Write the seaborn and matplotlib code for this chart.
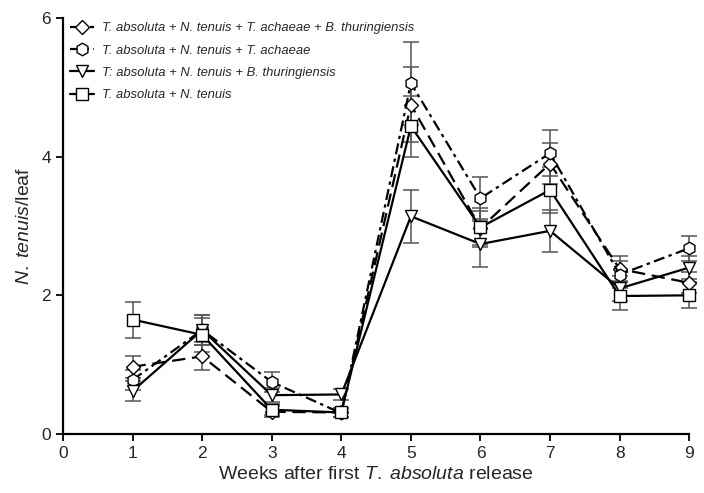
import matplotlib
matplotlib.use("Agg")
import matplotlib.pyplot as plt
import seaborn as sns
import pandas as pd
import numpy as np

weeks = [1, 2, 3, 4, 5, 6, 7, 8, 9]

labels = [
    "T. absoluta + N. tenuis + T. achaeae + B. thuringiensis",
    "T. absoluta + N. tenuis + T. achaeae",
    "T: absoluta + N. tenuis + B. thuringiensis",
    "T. absoluta + N. tenuis",
]

diamond_mean = [0.97, 1.12, 0.32, 0.31, 4.75, 2.97, 3.90, 2.38, 2.18]
diamond_err = [0.16, 0.20, 0.08, 0.06, 0.54, 0.25, 0.30, 0.18, 0.15]
hexagon_mean = [0.78, 1.50, 0.75, 0.30, 5.06, 3.40, 4.05, 2.30, 2.68]
hexagon_err = [0.14, 0.22, 0.15, 0.06, 0.60, 0.30, 0.33, 0.20, 0.18]
triangle_mean = [0.62, 1.50, 0.56, 0.57, 3.14, 2.74, 2.93, 2.10, 2.40]
triangle_err = [0.14, 0.22, 0.10, 0.08, 0.38, 0.33, 0.30, 0.18, 0.16]
square_mean = [1.65, 1.43, 0.35, 0.31, 4.44, 2.98, 3.52, 1.99, 2.00]
square_err = [0.26, 0.25, 0.08, 0.06, 0.44, 0.28, 0.33, 0.20, 0.19]

means = [diamond_mean, hexagon_mean, triangle_mean, square_mean]
errs = [diamond_err, hexagon_err, triangle_err, square_err]
markers = ["D", "h", "v", "s"]
msizes = [7, 9, 9, 9]
styles = [(0, (6, 3)), (0, (5, 2, 1.5, 2)), "-", "-"]

sns.set_theme(style="ticks")
plt.rcParams["font.family"] = ["Liberation Sans", "DejaVu Sans"]
plt.rcParams["mathtext.fontset"] = "custom"
plt.rcParams["mathtext.it"] = "Liberation Sans:italic"
plt.rcParams["mathtext.rm"] = "Liberation Sans"

fig = plt.figure(figsize=(7.04, 4.93), dpi=100)
ax = fig.add_axes([0.0895, 0.1197, 0.979 - 0.0895, 0.9635 - 0.1197])

for m, e, mk, ms, ls, lab in zip(means, errs, markers, msizes, styles, labels):
    ax.errorbar(weeks, m, yerr=e, fmt="none", ecolor="#555555", elinewidth=1.1,
                capsize=5.5, capthick=1.1, zorder=2, clip_on=False)
    df = pd.DataFrame({"week": weeks, "val": m})
    sns.lineplot(data=df, x="week", y="val", ax=ax, color="black", linewidth=1.6,
                 linestyle=ls, marker=mk, markersize=ms, markerfacecolor="white",
                 markeredgecolor="black", markeredgewidth=1.0, label=lab,
                 zorder=3, clip_on=False)

ax.set_xlim(0, 9)
ax.set_ylim(0, 6)
ax.set_xticks(range(0, 10))
ax.set_yticks([0, 2, 4, 6])
ax.tick_params(axis="both", labelsize=12.5, direction="out", length=5, width=1.3, color="black")
for s in ["top", "right"]:
    ax.spines[s].set_visible(False)
for s in ["left", "bottom"]:
    ax.spines[s].set_linewidth(1.6)
    ax.spines[s].set_color("black")

ax.set_xlabel(r"Weeks after first $\it{T.\;absoluta}$ release", fontsize=14, labelpad=4)
ax.set_ylabel(r"$\it{N.\;tenuis}$/leaf", fontsize=14, labelpad=6)

leg = ax.legend(loc="upper left", bbox_to_anchor=(-0.004, 1.012), frameon=False,
                prop={"style": "italic", "size": 9.4, "family": "Liberation Sans"},
                handlelength=1.9, handletextpad=0.55, labelspacing=0.78,
                borderaxespad=0.3)

fig.savefig("out.png", dpi=100)
